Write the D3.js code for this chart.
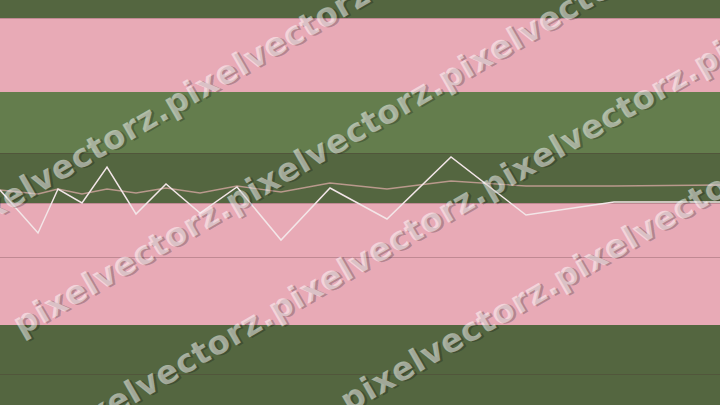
<!DOCTYPE html>
<html><head><meta charset="utf-8">
<script src="https://cdn.jsdelivr.net/npm/d3@7"></script>
<style>html,body{margin:0;padding:0;background:#546640;}svg{display:block;}</style>
</head><body>
<svg id="c" width="720" height="405"></svg>
<script>
// ---- data ----
const xValues = [0, 38, 58, 82, 107, 136, 166, 200, 237, 281, 330, 387, 451, 526, 614, 720];
const seriesWhite = [43, 34.4, 43.2, 40.4, 47.6, 38.2, 44.2, 38.4, 43.6, 33, 43.4, 37.2, 49.6, 38, 40.6, 40.6];
const seriesBrown = [43, 42.2, 43.2, 42.2, 43.2, 42.4, 43.4, 42.4, 43.8, 42.6, 44.4, 43.2, 44.8, 43.8, 43.8, 44];
const bandFrom = [0, 16, 40.4, 50.4, 62.6, 77.4];
const bandTo   = [16, 40.4, 50.4, 62.6, 77.4, 81];
const bandKind = ["dark", "pink", "dark", "light", "pink", "dark"];
const gridValues = [6.2, 29.6, 40.4, 50.4, 77.4];
const watermarkRows = [187, 302, 417, 532];
const watermarkStart = [-155, -150, -167, -150];
const watermarkRepeats = [2, 5, 5, 5];
const watermarkText = "pixelvectorz.";

const W = 720, H = 405;
const svg = d3.select("#c");
const x = d3.scaleLinear().domain([0, 720]).range([0, W]);
const y = d3.scaleLinear().domain([0, 81]).range([H, 0]);
const bandColor = {dark: "#546640", pink: "#e8aab6", light: "#647d4d"};

// bands
svg.append("g").selectAll("rect").data(bandFrom.map((f, i) => ({f, t: bandTo[i], k: bandKind[i]})))
  .join("rect")
  .attr("x", 0).attr("width", W)
  .attr("y", d => y(d.t)).attr("height", d => y(d.f) - y(d.t))
  .attr("fill", d => bandColor[d.k]);

// grid lines
svg.append("g").selectAll("line").data(gridValues).join("line")
  .attr("x1", 0).attr("x2", W)
  .attr("y1", d => Math.round(y(d)) + 0.5).attr("y2", d => Math.round(y(d)) + 0.5)
  .attr("stroke", "rgba(70,40,45,0.25)").attr("stroke-width", 1);

// lines
const line = d3.line().x((d, i) => x(xValues[i])).y(d => y(d));
svg.append("path").datum(seriesBrown).attr("d", line)
  .attr("fill", "none").attr("stroke", "#b9998c").attr("stroke-width", 1.3);
svg.append("path").datum(seriesWhite).attr("d", line)
  .attr("fill", "none").attr("stroke", "#f3e6e8").attr("stroke-width", 1.5);

// watermark
const wm = svg.append("g").attr("transform", "rotate(-30)");
watermarkRows.forEach((v, i) => {
  const txt = watermarkText.repeat(watermarkRepeats[i]);
  const x0 = watermarkStart[i];
  wm.append("text").attr("x", x0 + 2).attr("y", v + 2).text(txt)
    .attr("font-family", "DejaVu Sans").attr("font-weight", "bold").attr("font-size", 32.5)
    .attr("letter-spacing", 0.7)
    .attr("fill", "rgba(0,0,0,0.22)");
  wm.append("text").attr("x", x0).attr("y", v).text(txt)
    .attr("font-family", "DejaVu Sans").attr("font-weight", "bold").attr("font-size", 32.5)
    .attr("letter-spacing", 0.7)
    .attr("fill", "rgba(255,255,255,0.5)");
});
</script>
</body></html>
